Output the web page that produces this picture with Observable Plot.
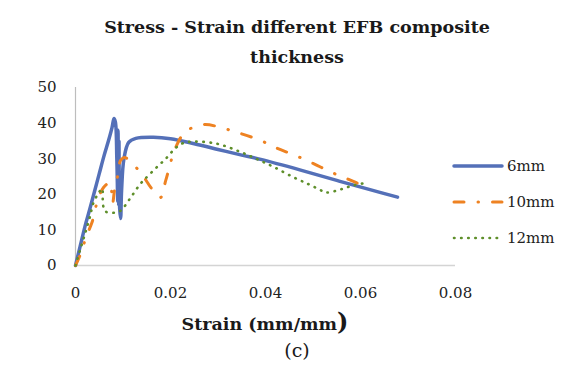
<!DOCTYPE html>
<html>
<head>
<meta charset="utf-8">
<script src="https://cdn.jsdelivr.net/npm/d3@7"></script>
<script src="https://cdn.jsdelivr.net/npm/@observablehq/plot@0.6"></script>
<style>
  html, body { margin: 0; padding: 0; background: #fff; }
  #wrap { position: relative; width: 562px; height: 372px; font-family: "DejaVu Serif", serif; color: #222; overflow: hidden; }
  .abs { position: absolute; white-space: nowrap; }
  #title { top: 12px; left: 32px; width: 530px; text-align: center; font-weight: bold; font-size: 17.5px; line-height: 30px; color: #1a1a1a; }
  #ylab { left: 19px; top: 170px; transform: translate(-50%, -50%) rotate(-90deg); font-weight: bold; font-size: 16.5px; color: #1a1a1a; }
  #xlab { left: 265px; top: 321px; transform: translate(-50%, -50%); font-weight: bold; font-size: 17.5px; color: #1a1a1a; }
  #xlab .big { font-size: 24px; }
  #cap { left: 297px; top: 350px; transform: translate(-50%, -50%); font-size: 19px; color: #1a1a1a; }
  #plot { position: absolute; left: 0; top: 72px; }
  .leg { position: absolute; left: 452px; height: 20px; display: flex; align-items: center; font-size: 15px; color: #222; }
  .leg svg { margin-right: 3px; }
</style>
</head>
<body>
<div id="wrap">
  <div id="title" class="abs">Stress - Strain different EFB composite<br>thickness</div>
  <div id="ylab" class="abs">Stress (Mpa)</div>
  <div id="plot"></div>
  <div id="xlab" class="abs">Strain (mm/mm<span class="big">)</span></div>
  <div id="cap" class="abs">(c)</div>
  <div id="legend"></div>
</div>
<script>
// ---- data ----
const seriesNames = ["6mm", "10mm", "12mm"];
const seriesColors = ["#5470B8", "#EE8222", "#5E8F2A"];

const strain6 = [0, 0.001, 0.002, 0.003, 0.004, 0.005, 0.006, 0.007, 0.0077, 0.0081, 0.0084, 0.0087, 0.0089, 0.00895, 0.0091, 0.00915, 0.0093, 0.0095, 0.0097, 0.0102, 0.0112, 0.0127, 0.0164, 0.02, 0.025, 0.03, 0.035, 0.039, 0.0474, 0.055, 0.062, 0.0678];
const stress6 = [0, 5.5, 11, 15.8, 20.8, 25.8, 30.8, 35.3, 38.8, 41.3, 40.3, 30, 18, 38, 17, 35, 16, 13.2, 21, 30, 34.6, 35.7, 36, 35.6, 34.2, 32.6, 31, 29.8, 26.8, 23.9, 21.3, 19.2];

const strain10 = [0, 0.001, 0.002, 0.003, 0.0035, 0.0045, 0.0059, 0.0074, 0.0076, 0.0078, 0.0082, 0.009, 0.0095, 0.0105, 0.0115, 0.013, 0.0144, 0.0161, 0.0179, 0.019, 0.0211, 0.0232, 0.027, 0.0312, 0.0347, 0.039, 0.0425, 0.0463, 0.05, 0.054, 0.0575, 0.0614];
const stress10 = [0, 3, 7, 10.5, 12.2, 17.5, 21.9, 23.3, 18, 17.5, 21, 26, 29.5, 30.3, 29, 27.2, 24.8, 21.5, 19.1, 23.9, 33.2, 37.6, 39.6, 38.5, 37.1, 35.1, 32.9, 30.9, 28.7, 26.1, 24.2, 21.9];

const strain12 = [0, 0.001, 0.0021, 0.003, 0.0038, 0.0048, 0.0056, 0.0058, 0.0063, 0.008, 0.0095, 0.0112, 0.0122, 0.0137, 0.0147, 0.0168, 0.019, 0.021, 0.0225, 0.0249, 0.0298, 0.034, 0.038, 0.042, 0.046, 0.0488, 0.0514, 0.0528, 0.0556, 0.0585, 0.0615];
const stress12 = [0, 4.5, 9.3, 13.5, 17.7, 20.2, 21.6, 17, 15.2, 14.8, 15.4, 18.3, 20.2, 23, 24.4, 27.2, 30, 32.9, 34.3, 34.8, 34.2, 32.3, 30, 27.5, 24.7, 23, 21.3, 20.5, 21.3, 22.5, 23.3];

const xTicks = [0, 0.02, 0.04, 0.06, 0.08];
const xTickLabels = ["0", "0.02", "0.04", "0.06", "0.08"];
const yTicks = [0, 10, 20, 30, 40, 50];

// ---- build tables ----
const toRows = (xs, ys, s) => xs.map((x, i) => ({strain: x, stress: ys[i], series: s}));
const d6 = toRows(strain6, stress6, seriesNames[0]);
const d10 = toRows(strain10, stress10, seriesNames[1]);
const d12 = toRows(strain12, stress12, seriesNames[2]);

const dashes = ["none", "10,14,0.5,14", "0.5,6.6"];
const widths = [3.5, 3, 2.6];

const chart = Plot.plot({
  width: 562,
  height: 238,
  marginLeft: 75,
  marginRight: 107,
  marginTop: 15,
  marginBottom: 45,
  style: {fontFamily: "DejaVu Serif", fontSize: "15px", color: "#222", background: "white", overflow: "visible"},
  x: {domain: [0, 0.08], ticks: xTicks, tickFormat: (d, i) => xTickLabels[i], tickSize: 0, tickPadding: 22, label: null},
  y: {domain: [0, 50], ticks: yTicks, tickSize: 0, tickPadding: 19, label: null},
  marks: [
    Plot.ruleY([0], {stroke: "#d4d4d4", strokeWidth: 1.5}),
    Plot.ruleX([0], {stroke: "#bdbdbd", strokeWidth: 1.2}),
    Plot.line(d6, {x: "strain", y: "stress", stroke: seriesColors[0], strokeWidth: widths[0], curve: "catmull-rom", strokeLinejoin: "round", strokeLinecap: "round"}),
    Plot.line(d10, {x: "strain", y: "stress", stroke: seriesColors[1], strokeWidth: widths[1], strokeDasharray: dashes[1], curve: "catmull-rom", strokeLinecap: "round"}),
    Plot.line(d12, {x: "strain", y: "stress", stroke: seriesColors[2], strokeWidth: widths[2], strokeDasharray: dashes[2], curve: "catmull-rom", strokeLinecap: "round"})
  ]
});
document.getElementById("plot").appendChild(chart);

// ---- legend ----
const legTops = [156, 192, 228];
const legend = document.getElementById("legend");
seriesNames.forEach((name, i) => {
  const item = document.createElement("div");
  item.className = "leg";
  item.style.top = legTops[i] + "px";
  const dash = dashes[i] === "none" ? "" : `stroke-dasharray="${dashes[i]}"`;
  item.innerHTML = `<svg width="52" height="10"><line x1="2" y1="5" x2="50" y2="5" stroke="${seriesColors[i]}" stroke-width="${widths[i]}" stroke-linecap="round" ${dash}/></svg><span>${name}</span>`;
  legend.appendChild(item);
});
</script>
</body>
</html>
